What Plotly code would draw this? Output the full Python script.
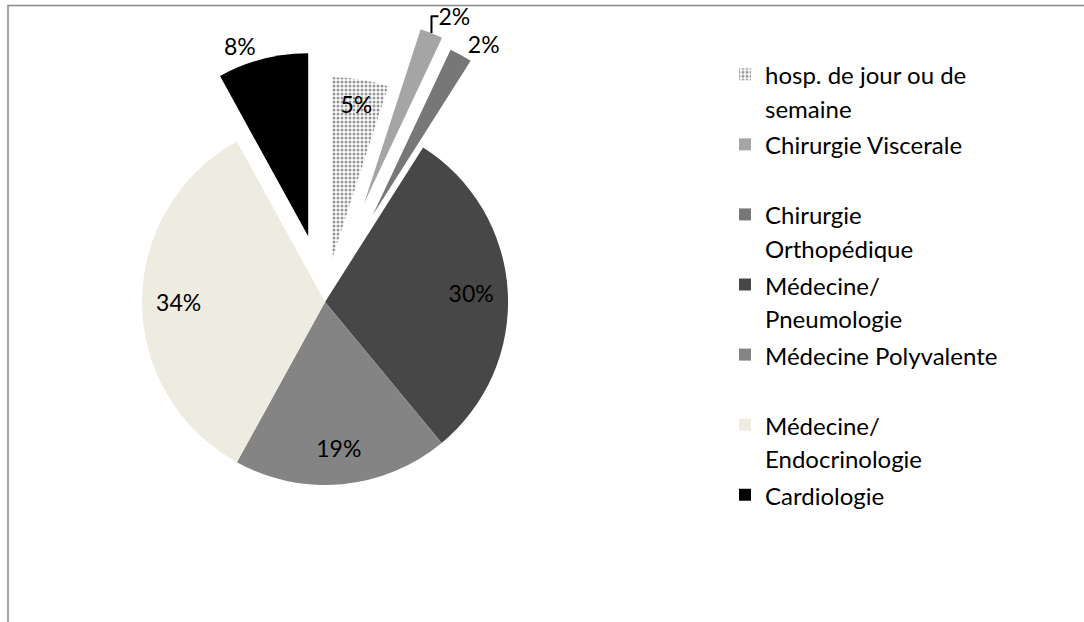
import plotly.graph_objects as go

# ---- data ----
categories = [
    "hosp. de jour ou de semaine",
    "Chirurgie Viscerale",
    "Chirurgie Orthopédique",
    "Médecine/ Pneumologie",
    "Médecine Polyvalente",
    "Médecine/ Endocrinologie",
    "Cardiologie",
]
legend_text = [
    "hosp. de jour ou de<br>semaine",
    "Chirurgie Viscerale<br>\u00a0",
    "Chirurgie<br>Orthopédique",
    "Médecine/<br>Pneumologie",
    "Médecine Polyvalente<br>\u00a0",
    "Médecine/<br>Endocrinologie",
    "Cardiologie",
]
values = [5, 2, 2, 30, 19, 34, 8]

# ---- style ----
colors = ["#d0d0d0", "#a5a5a5", "#777777", "#474747", "#848484", "#eeece1", "#000000"]
pulls = [0.23, 0.58, 0.54, 0, 0, 0, 0.37]
outer_pos = ["none", "outside", "outside", "none", "none", "none", "outside"]
inner_pos = ["inside", "none", "none", "inside", "inside", "inside", "none"]
pattern_shapes = [".", "", "", "", "", "", ""]

FONT = "Lato"
W, H = 1084, 622
DOMAIN = dict(x=[0.0331, 0.5666], y=[0.0496, 0.9795])

labels_html = [f'<span style="font-size:24px">{t}</span>' for t in legend_text]
lbl_font = dict(color="black", size=23, family=FONT)

fig = go.Figure()
# the pie itself (with the outside labels)
fig.add_trace(
    go.Pie(
        labels=labels_html,
        values=values,
        sort=False,
        direction="clockwise",
        rotation=0,
        pull=pulls,
        marker=dict(
            colors=colors,
            line=dict(width=0),
            pattern=dict(shape=pattern_shapes, fgcolor="#969696", size=4, solidity=0.45),
        ),
        texttemplate="%{percent:.0%}",
        textposition=outer_pos,
        outsidetextfont=lbl_font,
        insidetextfont=lbl_font,
        hoverinfo="label+percent",
        domain=DOMAIN,
    )
)
# transparent ring over the same pie, used to place the inside labels near the rim
fig.add_trace(
    go.Pie(
        labels=categories,
        values=values,
        sort=False,
        direction="clockwise",
        rotation=0,
        pull=pulls,
        hole=0.6,
        marker=dict(colors=["rgba(0,0,0,0)"] * len(values), line=dict(width=0)),
        texttemplate="%{percent:.0%}",
        textposition=inner_pos,
        insidetextorientation="horizontal",
        insidetextfont=lbl_font,
        hoverinfo="skip",
        showlegend=False,
        domain=DOMAIN,
    )
)

fig.update_layout(
    width=W,
    height=H,
    margin=dict(l=0, r=0, t=0, b=0, autoexpand=False),
    paper_bgcolor="white",
    plot_bgcolor="white",
    font=dict(family=FONT, color="black"),
    showlegend=True,
    legend=dict(
        x=725 / W,
        y=1 - 51 / H,
        xanchor="left",
        yanchor="top",
        font=dict(size=25.8, family=FONT, color="black"),
        valign="top",
        bgcolor="rgba(0,0,0,0)",
        traceorder="normal",
    ),
    shapes=[
        dict(
            type="rect", xref="paper", yref="paper",
            x0=8 / W, x1=1.05, y0=-0.05, y1=1 - 5.5 / H,
            line=dict(color="#898989", width=1.5),
            fillcolor="rgba(0,0,0,0)", layer="below",
        )
    ],
)

fig.write_html(
    "out.html",
    config={"displayModeBar": False},
    post_script="document.body.style.margin='0px';",
)
